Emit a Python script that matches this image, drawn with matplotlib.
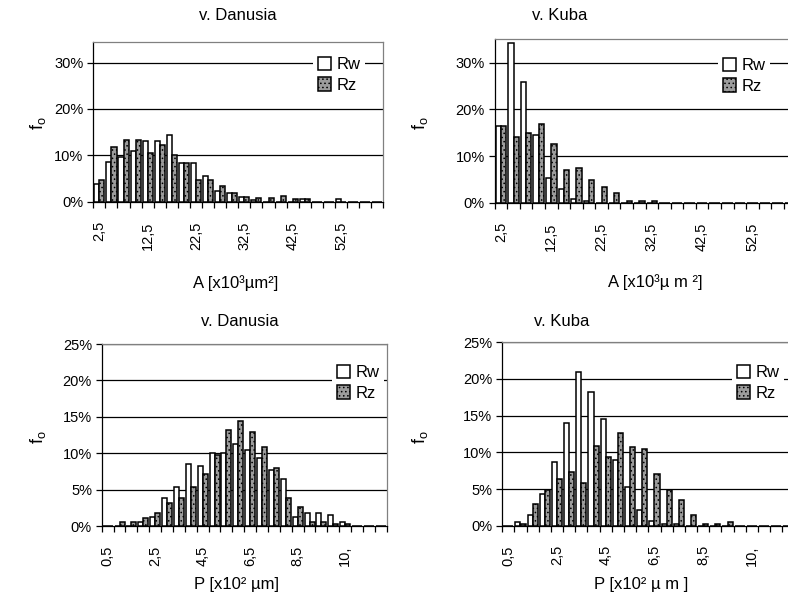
import matplotlib.pyplot as plt
import numpy as np

plt.rcParams['font.family'] = ['Liberation Sans', 'DejaVu Sans']
plt.rcParams['hatch.linewidth'] = 0.6

# category bins (A in 10^3 um^2, P in 10^2 um)
area_bins = [2.5, 5.0, 7.5, 10.0, 12.5, 15.0, 17.5, 20.0, 22.5, 25.0, 27.5, 30.0,
             32.5, 35.0, 37.5, 40.0, 42.5, 45.0, 47.5, 50.0, 52.5, 55.0, 57.5, 60.0]
per_bins = [0.5, 1.0, 1.5, 2.0, 2.5, 3.0, 3.5, 4.0, 4.5, 5.0, 5.5, 6.0,
            6.5, 7.0, 7.5, 8.0, 8.5, 9.0, 9.5, 10.0, 10.5, 11.0, 11.5, 12.0]
area_labels = ["2,5", "12,5", "22,5", "32,5", "42,5", "52,5"]
per_labels = ["0,5", "2,5", "4,5", "6,5", "8,5", "10,"]

# frequencies in %
danusia_A_rw = [3.9, 8.5, 9.7, 10.9, 13.0, 13.0, 14.3, 8.4, 8.4, 5.5, 2.4, 1.8,
                1.1, 0.45, 0, 0, 0, 0.5, 0, 0, 0.5, 0, 0, 0]
danusia_A_rz = [4.6, 11.8, 13.4, 13.4, 10.6, 12.2, 10.1, 8.4, 4.6, 4.6, 3.4, 1.8,
                1.1, 0.8, 0.8, 1.3, 0.5, 0.5, 0, 0, 0, 0, 0, 0]
kuba_A_rw = [16.4, 34.3, 25.8, 14.5, 5.3, 2.9, 0.8, 0.4, 0, 0, 0, 0,
             0, 0, 0, 0, 0, 0, 0, 0, 0, 0, 0, 0]
kuba_A_rz = [16.4, 14.1, 15.0, 16.9, 12.5, 6.9, 7.4, 4.9, 3.3, 2.1, 0.4, 0.4,
             0.4, 0, 0, 0, 0, 0, 0, 0, 0, 0, 0, 0]
danusia_P_rw = [0, 0, 0, 0.5, 1.3, 3.9, 5.4, 8.5, 8.2, 10.0, 10.0, 11.3,
                10.5, 9.3, 7.7, 6.4, 1.3, 1.8, 1.8, 1.5, 0.5, 0, 0, 0]
danusia_P_rz = [0, 0.5, 0.5, 1.1, 1.8, 3.1, 3.9, 5.4, 7.2, 9.7, 13.2, 14.4,
                12.9, 10.8, 7.9, 3.9, 2.6, 0.5, 0.5, 0.3, 0.3, 0, 0, 0]
kuba_P_rw = [0, 0.45, 1.4, 4.3, 8.7, 14.0, 21.0, 18.2, 14.6, 8.9, 5.3, 2.2,
             0.7, 0.2, 0.2, 0, 0, 0, 0, 0, 0, 0, 0, 0]
kuba_P_rz = [0, 0.2, 3.0, 4.8, 6.3, 7.3, 5.8, 10.9, 9.4, 12.7, 10.7, 10.4,
             7.0, 4.8, 3.5, 1.5, 0.2, 0.2, 0.45, 0, 0, 0, 0, 0]

W, H = 788, 598
fig = plt.figure(figsize=(W / 100, H / 100), dpi=100)


def px_rect(left, top, right, bottom):
    return [left / W, 1 - bottom / H, (right - left) / W, (bottom - top) / H]


def ftext(x, y, s, **kw):
    fig.text(x / W, 1 - y / H, s, ha='center', va='center', **kw)


def panel(rect, bins, rw, rz, ymax, ystep, xlabels, legend_xy):
    ax = fig.add_axes(rect)
    n = len(bins)
    x = np.arange(n)
    w = 0.42
    ax.bar(x - w / 2, np.array(rw) / 100, w, color='white', edgecolor='black',
           lw=1.1, label='Rw', zorder=3)
    ax.bar(x + w / 2, np.array(rz) / 100, w, color='#9c9c9c', edgecolor='black',
           lw=1.1, hatch='....', label='Rz', zorder=3)
    ax.set_xlim(-0.5, n - 0.5)
    ax.set_ylim(0, ymax)

    yt = np.arange(0, ymax + 1e-9, ystep)
    ax.set_yticks(yt, [f"{round(v * 100)}%" for v in yt])
    for v in yt[1:]:
        ax.axhline(v, color='black', lw=0.9, zorder=1)

    # tick marks on category boundaries, labels on every 4th category
    ax.set_xticks(np.arange(n + 1) - 0.5, [''] * (n + 1))
    ax.set_xticks(x[::4], xlabels, minor=True, rotation=90)
    ax.tick_params(axis='x', which='minor', length=0, pad=14, labelsize=10.5)
    ax.tick_params(axis='x', which='major', length=4, width=0.9, direction='out')
    ax.tick_params(axis='y', length=4, width=0.9, direction='out', labelsize=10.5, pad=3)

    for s in ('top', 'right'):
        ax.spines[s].set_color('#808080')
        ax.spines[s].set_linewidth(0.9)
    for s in ('left', 'bottom'):
        ax.spines[s].set_linewidth(0.9)

    leg = ax.legend(loc='upper left', bbox_to_anchor=(legend_xy[0] / W, 1 - legend_xy[1] / H),
                    bbox_transform=fig.transFigure, frameon=True, fancybox=False,
                    facecolor='white', edgecolor='none', framealpha=1, fontsize=12,
                    handlelength=0.75, handleheight=0.85, handletextpad=0.35,
                    labelspacing=0.3, borderpad=0.3, borderaxespad=0)
    leg.set_zorder(5)
    return ax


panel(px_rect(93.3, 41.7, 383.3, 201.7), area_bins, danusia_A_rw, danusia_A_rz,
      0.345, 0.1, area_labels, (313, 52))
panel(px_rect(494.7, 39.3, 796.4, 202.7), area_bins, kuba_A_rw, kuba_A_rz,
      0.35, 0.1, area_labels, (718, 53))
panel(px_rect(101.7, 344, 386.7, 526), per_bins, danusia_P_rw, danusia_P_rz,
      0.25, 0.05, per_labels, (332, 360))
panel(px_rect(502.2, 342.3, 794.5, 525.7), per_bins, kuba_P_rw, kuba_P_rz,
      0.25, 0.05, per_labels, (732, 360))

# titles, axis titles
ftext(238, 15, "v. Danusia", fontsize=12)
ftext(560, 15, "v. Kuba", fontsize=12)
ftext(240, 322, "v. Danusia", fontsize=12)
ftext(562, 322, "v. Kuba", fontsize=12)

for x, y in [(38, 123), (420, 123), (38, 437), (420, 437)]:
    ftext(x, y, r"f$_\mathregular{o}$", fontsize=13, rotation=90)

ftext(236, 283, "A [x10³µm²]", fontsize=12)
ftext(655, 282, "A [x10³µ m ²]", fontsize=12)
ftext(236, 585, "P [x10² µm]", fontsize=12)
ftext(641, 585, "P [x10² µ m ]", fontsize=12)

fig.savefig("out.png", dpi=100)
